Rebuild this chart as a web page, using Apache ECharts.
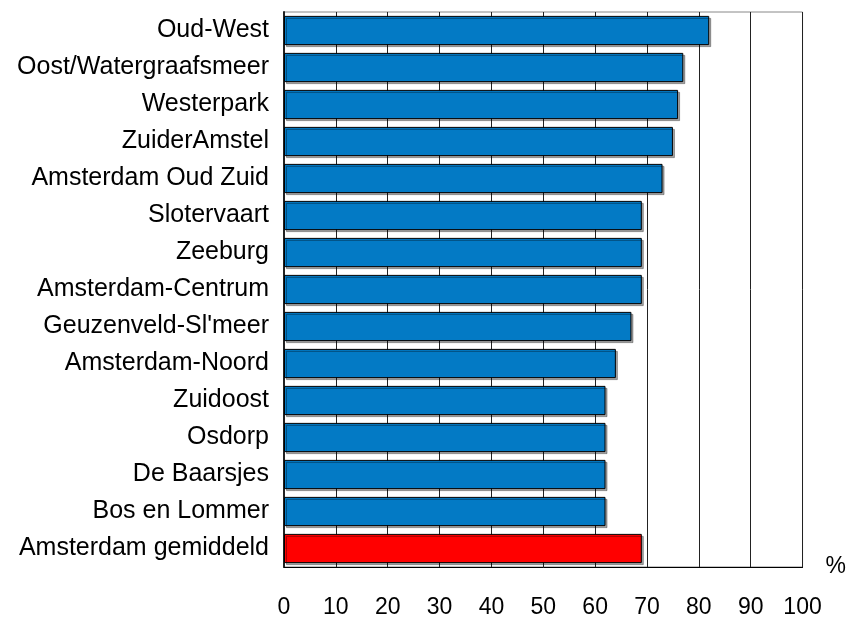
<!DOCTYPE html>
<html>
<head>
<meta charset="utf-8">
<script src="https://cdn.jsdelivr.net/npm/echarts@6/dist/echarts.min.js"></script>
<style>html,body{margin:0;padding:0;background:#fff}#c{width:849px;height:619px}</style>
</head>
<body>
<div id="c"></div>
<script>
var categories = ["Oud-West","Oost/Watergraafsmeer","Westerpark","ZuiderAmstel","Amsterdam Oud Zuid","Slotervaart","Zeeburg","Amsterdam-Centrum","Geuzenveld-Sl'meer","Amsterdam-Noord","Zuidoost","Osdorp","De Baarsjes","Bos en Lommer","Amsterdam gemiddeld"];
var values = [82,77,76,75,73,69,69,69,67,64,62,62,62,62,69];
var highlight = "Amsterdam gemiddeld";
var xTicks = [0,10,20,30,40,50,60,70,80,90,100];

var chart = echarts.init(document.getElementById('c'), null, {renderer:'canvas'});
var data = values.map(function(v,i){
  var isAvg = categories[i] === highlight;
  return {value: v, itemStyle: {color: isAvg ? '#FF0000' : '#037AC5'}};
});
chart.setOption({
  animation: false,
  grid: {left: 284, right: 45, top: 12, bottom: 47, show: true, borderColor: '#888', borderWidth: 1, containLabel: false},
  xAxis: {
    type: 'value', min: 0, max: 100, interval: 10,
    name: '%', nameLocation: 'end', nameGap: 23,
    nameTextStyle: {fontFamily: 'Liberation Sans', fontSize: 23, color: '#000', verticalAlign: 'middle', padding: [0,0,0,0]},
    axisLine: {show: true, lineStyle: {color: '#000', width: 1}},
    axisTick: {show: false},
    axisLabel: {fontFamily: 'Liberation Sans', fontSize: 23, color: '#000', margin: 29,
      formatter: function(v){ return xTicks.indexOf(v) >= 0 ? String(v) : ''; }},
    splitLine: {show: true, lineStyle: {color: '#222', width: 1}}
  },
  yAxis: {
    type: 'category', data: categories, inverse: true,
    axisLine: {show: true, lineStyle: {color: '#222', width: 2}},
    axisTick: {show: false},
    axisLabel: {fontFamily: 'Liberation Sans', fontSize: 25, color: '#000', margin: 15},
    splitLine: {show: false}
  },
  series: [{
    type: 'bar', data: data, barCategoryGap: '21%',
    itemStyle: {borderColor: '#000', borderWidth: 1, shadowColor: 'rgba(0,0,0,0.35)', shadowOffsetX: 2, shadowOffsetY: 2, shadowBlur: 0}
  }]
});
</script>
</body>
</html>
